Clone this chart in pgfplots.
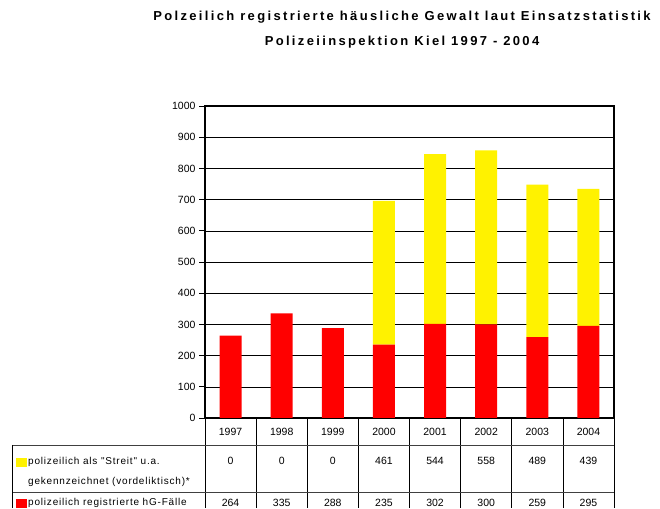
\documentclass[border=0pt]{standalone}
\usepackage{fontspec}
\setmainfont{Liberation Sans}
\newfontfamily\titlefont[LetterSpace=18]{Liberation Sans}
\newfontfamily\labelfont[LetterSpace=8]{Liberation Sans}
\usepackage{pgfplots}
\pgfplotsset{compat=1.18}
\begin{document}
\begin{tikzpicture}[x=1pt,y=1pt]
\useasboundingbox (0,0) rectangle (660,508);
\begin{axis}[at={(205pt,90pt)}, anchor=south west, scale only axis,
  width=409pt, height=312pt,
  xmin=-0.5, xmax=7.5, ymin=0, ymax=1000,
  ytick={0,100,...,1000}, xtick=\empty,
  ybar stacked, bar width=22pt,
  axis line style={line width=1.2pt},
  ymajorgrids, grid style={black, line width=0.5pt},
  tick align=outside, ytick pos=left, major tick length=6pt,
  tick style={black, line width=0.6pt},
  yticklabel style={font=\fontsize{10.5}{12}\selectfont},
  /pgf/number format/1000 sep={},
  /pgf/number format/assume math mode=true]
\addplot[fill=red, draw=none] coordinates {(0,264) (1,335) (2,288) (3,235) (4,302) (5,300) (6,259) (7,295)};
\addplot[fill=yellow, draw=none] coordinates {(0,0) (1,0) (2,0) (3,461) (4,544) (5,558) (6,489) (7,439)};
\end{axis}
% title
\node[font=\titlefont\bfseries\fontsize{13}{15}\selectfont] at (402,491) {Polzeilich registrierte häusliche Gewalt laut Einsatzstatistik};
\node[font=\titlefont\bfseries\fontsize{13}{15}\selectfont] at (402,466) {Polizeiinspektion Kiel 1997 - 2004};
% data table
\foreach \k in {0,...,8} {\draw[black, line width=0.6pt] ({205+51.125*\k},90) -- ({205+51.125*\k},0);}
\draw[black!75, line width=0.6pt] (12,63) -- (614,63);
\draw[black!75, line width=0.6pt] (12,16) -- (614,16);
\draw[black, line width=0.6pt] (12,63) -- (12,0);
\foreach \y [count=\i from 0] in {1997,1998,1999,2000,2001,2002,2003,2004}
  {\node[font=\fontsize{10.5}{12}\selectfont] at ({205+51.125*(\i+0.5)},76) {\y};}
\foreach \v [count=\i from 0] in {0,0,0,461,544,558,489,439}
  {\node[font=\fontsize{10.5}{12}\selectfont] at ({205+51.125*(\i+0.5)},47) {\v};}
\foreach \v [count=\i from 0] in {264,335,288,235,302,300,259,295}
  {\node[font=\fontsize{10.5}{12}\selectfont] at ({205+51.125*(\i+0.5)},5) {\v};}
\fill[yellow] (16,41) rectangle (27,50);
\fill[red] (16,0) rectangle (27,9);
\node[anchor=west, inner sep=0pt, font=\labelfont\fontsize{10}{12}\selectfont] at (28,46) {polizeilich als "Streit" u.a.};
\node[anchor=west, inner sep=0pt, font=\labelfont\fontsize{10}{12}\selectfont] at (28,26) {gekennzeichnet (vordeliktisch)*};
\node[anchor=west, inner sep=0pt, font=\labelfont\fontsize{10}{12}\selectfont] at (28,5) {polizeilich registrierte hG-Fälle};
\end{tikzpicture}
\end{document}
